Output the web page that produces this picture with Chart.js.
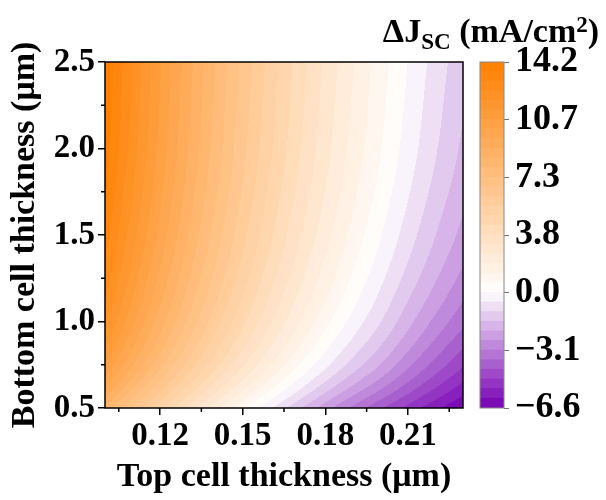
<!DOCTYPE html>
<html>
<head>
<meta charset="utf-8">
<script src="https://cdn.jsdelivr.net/npm/chart.js@4.4.0/dist/chart.umd.min.js"></script>
<style>
html,body{margin:0;padding:0;background:#fff;}
#wrap{position:relative;width:606px;height:500px;overflow:hidden;}
#wrap canvas{position:absolute;left:0;top:0;}
#cbt{position:absolute;left:491px;top:14px;transform:translateX(-50%);white-space:nowrap;
  font-family:'Liberation Serif','Times New Roman',serif;font-weight:bold;font-size:34px;line-height:1;color:#000;}
#cbt .sub{font-size:0.68em;position:relative;top:0.3em;}
#cbt .sup{font-size:0.68em;position:relative;top:-0.45em;}
</style>
</head>
<body>
<div id="wrap">
  <canvas id="main" width="606" height="500"></canvas>
  <canvas id="cbar" width="606" height="500"></canvas>
  <div id="cbt">ΔJ<span class="sub">SC</span> (mA/cm<span class="sup">2</span>)</div>
</div>
<script>
// ---------------- data ----------------
const topCellThickness    = [0.10,0.11,0.12,0.13,0.14,0.15,0.16,0.17,0.18,0.19,0.20,0.21,0.22,0.23];
const bottomCellThickness = [0.5,0.625,0.75,1.0,1.25,1.5,2.0,2.5];
// ΔJsc (mA/cm²) for each bottom-cell thickness row, along top-cell thickness
const dJsc_b050  = [8.30,6.66,5.12,3.67,2.32,1.05,-0.14,-1.25,-2.30,-3.28,-4.20,-5.06,-5.87,-6.60];
const dJsc_b0625 = [9.66,7.99,6.43,4.96,3.59,2.31,1.12,0.00,-1.06,-2.04,-2.96,-3.91,-4.80,-5.62];
const dJsc_b075  = [10.72,9.03,7.45,5.97,4.59,3.30,2.10,0.97,-0.09,-1.07,-1.99,-2.99,-3.94,-4.80];
const dJsc_b100  = [12.02,10.30,8.71,7.20,5.81,4.51,3.30,2.16,1.10,0.12,-0.80,-1.78,-2.71,-3.57];
const dJsc_b125  = [12.78,11.05,9.44,7.93,6.53,5.22,4.01,2.87,1.80,0.82,-0.10,-1.04,-1.92,-2.74];
const dJsc_b150  = [13.32,11.57,9.96,8.44,7.03,5.72,4.50,3.36,2.29,1.30,0.38,-0.53,-1.39,-2.17];
const dJsc_b200  = [13.93,12.18,10.55,9.03,7.61,6.29,5.07,3.93,2.86,1.87,0.95,0.07,-0.76,-1.52];
const dJsc_b250  = [14.20,12.44,10.81,9.28,7.86,6.54,5.32,4.17,3.10,2.11,1.19,0.33,-0.48,-1.22];

const xTickValues      = [0.12,0.15,0.18,0.21];
const xMinorTickValues = [0.105,0.135,0.165,0.195,0.225];
const yTickValues      = [0.5,1.0,1.5,2.0,2.5];
const yMinorTickValues = [0.75,1.25,1.75,2.25];
const cbarTickLabels   = ['\u22126.6','\u22123.1','0.0','3.8','7.3','10.7','14.2'];
const levelMin = -6.6, levelMax = 14.2, bandCount = 36;

// ---------------- helpers ----------------
const gridRows = [dJsc_b050,dJsc_b0625,dJsc_b075,dJsc_b100,dJsc_b125,dJsc_b150,dJsc_b200,dJsc_b250];
const levelStep = (levelMax-levelMin)/bandCount;
const cbarTickValues = cbarTickLabels.map((_,i)=>levelMin+i*(levelMax-levelMin)/(cbarTickLabels.length-1));
const whiteValue = cbarTickValues[2];
const colHigh=[255,127,0], colMid=[255,255,255], colLow=[118,0,178];
function mix(a,b,t){return [0,1,2].map(i=>Math.round(a[i]+(b[i]-a[i])*t));}
function colorFor(v){
  if(v>=whiteValue){return mix(colMid,colHigh,Math.min(1,(v-whiteValue)/(levelMax-whiteValue)));}
  return mix(colMid,colLow,Math.min(1,(whiteValue-v)/(whiteValue-levelMin)));
}
const bands=[];
for(let i=0;i<bandCount;i++){
  const lo=levelMin+i*levelStep, hi=lo+levelStep;
  bands.push({lo,hi,rgb:colorFor((lo+hi)/2)});
}
function pchipSlopes(x,y){
  const n=x.length,h=[],d=[],m=new Array(n);
  for(let i=0;i<n-1;i++){h[i]=x[i+1]-x[i];d[i]=(y[i+1]-y[i])/h[i];}
  m[0]=d[0];m[n-1]=d[n-2];
  for(let i=1;i<n-1;i++){
    if(d[i-1]*d[i]<=0){m[i]=0;}
    else{const w1=2*h[i]+h[i-1],w2=h[i]+2*h[i-1];m[i]=(w1+w2)/(w1/d[i-1]+w2/d[i]);}
  }
  return m;
}
function pchipEval(x,y,m,t){
  const n=x.length;
  if(t<=x[0])return y[0];
  if(t>=x[n-1])return y[n-1];
  let i=0;while(i<n-2&&t>x[i+1])i++;
  const h=x[i+1]-x[i],s=(t-x[i])/h,s2=s*s,s3=s2*s;
  return (2*s3-3*s2+1)*y[i]+(s3-2*s2+s)*h*m[i]+(-2*s3+3*s2)*y[i+1]+(s3-s2)*h*m[i+1];
}

Chart.defaults.font.family="'Liberation Serif','Times New Roman',serif";
Chart.defaults.font.weight='bold';
Chart.defaults.color='#000';

// field drawn from the grid through the chart's scales
const contourFill={
  id:'contourFill',
  beforeDatasetsDraw(chart){
    const {ctx,chartArea:a,scales:{x:xs,y:ys}}=chart;
    const L=Math.round(a.left),T=Math.round(a.top),W=Math.round(a.right)-L,H=Math.round(a.bottom)-T;
    const img=ctx.createImageData(W,H);
    const rowSlopes=gridRows.map(r=>pchipSlopes(topCellThickness,r));
    const yv=new Float64Array(H);
    for(let py=0;py<H;py++)yv[py]=ys.getValueForPixel(T+py+0.5);
    for(let px=0;px<W;px++){
      const xv=xs.getValueForPixel(L+px+0.5);
      const col=gridRows.map((r,j)=>pchipEval(topCellThickness,r,rowSlopes[j],xv));
      const cs=pchipSlopes(bottomCellThickness,col);
      for(let py=0;py<H;py++){
        const v=pchipEval(bottomCellThickness,col,cs,yv[py]);
        let b=Math.floor((v-levelMin)/levelStep);
        if(b<0)b=0;if(b>bandCount-1)b=bandCount-1;
        const c=bands[b].rgb,o=(py*W+px)*4;
        img.data[o]=c[0];img.data[o+1]=c[1];img.data[o+2]=c[2];img.data[o+3]=255;
      }
    }
    ctx.putImageData(img,L,T);
  },
  afterDraw(chart){
    const {ctx,chartArea:a,scales:{x:xs,y:ys}}=chart;
    ctx.save();
    ctx.strokeStyle='#000';ctx.lineWidth=1.5;
    ctx.strokeRect(a.left,a.top,a.right-a.left,a.bottom-a.top);
    ctx.beginPath();
    xMinorTickValues.forEach(v=>{const p=xs.getPixelForValue(v);ctx.moveTo(p,a.bottom);ctx.lineTo(p,a.bottom+4);});
    yMinorTickValues.forEach(v=>{const p=ys.getPixelForValue(v);ctx.moveTo(a.left,p);ctx.lineTo(a.left-4,p);});
    ctx.stroke();
    ctx.restore();
  }
};

const gridPoints=[];
gridRows.forEach((r,j)=>r.forEach((v,k)=>gridPoints.push({x:topCellThickness[k],y:bottomCellThickness[j],v})));

new Chart(document.getElementById('main'),{
  type:'scatter',
  data:{datasets:[{label:'ΔJsc',data:gridPoints,pointRadius:0,showLine:false}]},
  options:{
    responsive:false,animation:false,events:[],
    layout:{padding:{left:0,top:62,right:143,bottom:0}},
    plugins:{legend:{display:false},tooltip:{enabled:false}},
    scales:{
      x:{type:'linear',min:0.10,max:0.23,
        afterBuildTicks:s=>{s.ticks=xTickValues.map(v=>({value:v}));},
        afterFit:s=>{s.height=92;},
        ticks:{callback:v=>Number(v).toFixed(2),font:{size:33,weight:'bold'},color:'#000',padding:2,maxRotation:0,autoSkip:false},
        grid:{drawOnChartArea:false,tickLength:7,color:'#000',lineWidth:1.5},
        border:{display:false},
        title:{display:true,text:'Top cell thickness (μm)',font:{size:34,weight:'bold'},color:'#000',padding:{top:0,bottom:2}}
      },
      y:{type:'linear',min:0.5,max:2.5,
        afterBuildTicks:s=>{s.ticks=yTickValues.map(v=>({value:v}));},
        afterFit:s=>{s.width=105;},
        ticks:{callback:v=>Number(v).toFixed(1),font:{size:33,weight:'bold'},color:'#000',padding:3,autoSkip:false},
        grid:{drawOnChartArea:false,tickLength:7,color:'#000',lineWidth:1.5},
        border:{display:false},
        title:{display:true,text:'Bottom cell thickness (μm)',font:{size:34,weight:'bold'},color:'#000',padding:{top:5,bottom:0}}
      }
    }
  },
  plugins:[contourFill]
});

// colour bar
const cbarOutline={
  id:'cbarOutline',
  afterDraw(chart){
    const {ctx,chartArea:a}=chart;
    ctx.save();ctx.strokeStyle='#888';ctx.lineWidth=1;
    ctx.strokeRect(a.left,a.top,a.right-a.left,a.bottom-a.top);
    ctx.restore();
  }
};
new Chart(document.getElementById('cbar'),{
  type:'bar',
  data:{labels:['ΔJsc'],datasets:bands.map(b=>({
    data:[[b.lo,b.hi]],backgroundColor:'rgb('+b.rgb.join(',')+')',borderWidth:0,
    barPercentage:1,categoryPercentage:1,inflateAmount:0.6}))},
  options:{
    responsive:false,animation:false,events:[],
    layout:{padding:{left:480,top:62,right:0,bottom:92}},
    plugins:{legend:{display:false},tooltip:{enabled:false}},
    scales:{
      x:{stacked:true,display:false},
      y:{stacked:false,position:'right',min:levelMin,max:levelMax,
        afterBuildTicks:s=>{s.ticks=cbarTickValues.map(v=>({value:v}));},
        afterFit:s=>{s.width=102;},
        ticks:{callback:(v,i)=>cbarTickLabels[i],font:{size:36,weight:'bold'},color:'#000',padding:6,autoSkip:false},
        grid:{drawOnChartArea:false,tickLength:5,color:'#777',lineWidth:1},
        border:{display:false}
      }
    }
  },
  plugins:[cbarOutline]
});
</script>
</body>
</html>
